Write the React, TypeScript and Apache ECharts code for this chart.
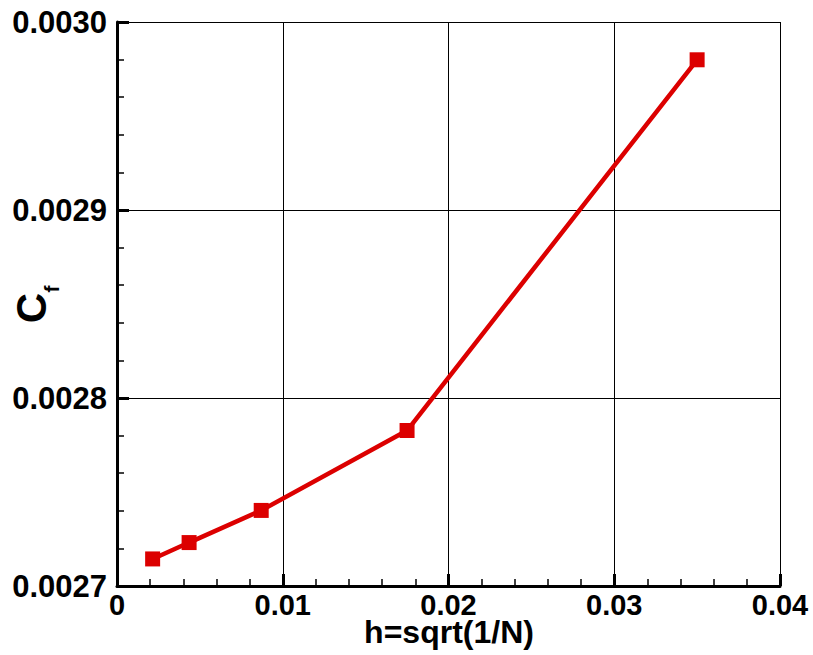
import React, { useEffect, useRef } from "react";
import * as echarts from "echarts";

const hValues = [0.00215, 0.00435, 0.0087, 0.0175, 0.035];
const cfValues = [0.0027144, 0.0027231, 0.0027402, 0.0027827, 0.0029799];
const xAxisTitle = "h=sqrt(1/N)";
const yAxisTitleMain = "C";
const yAxisTitleSub = "f";

export default function App() {
  const ref = useRef<HTMLDivElement>(null);
  useEffect(() => {
    if (!ref.current) return;
    const chart = echarts.init(ref.current, null, { renderer: "svg" });
    const font = "'Liberation Sans', Arial, Helvetica, sans-serif";
    chart.setOption({
      animation: false,
      backgroundColor: "#ffffff",
      grid: { left: 117, top: 22, right: 33, bottom: 69, containLabel: false, outerBoundsMode: "none" },
      xAxis: {
        type: "value",
        min: 0,
        max: 0.04,
        interval: 0.01,
        axisLine: { onZero: false, lineStyle: { color: "#000", width: 3 } },
        axisTick: { inside: true, length: 12, lineStyle: { color: "#000", width: 3 } },
        minorTick: { show: true, splitNumber: 5, length: 7, lineStyle: { color: "#000", width: 1.5 } },
        splitLine: { show: true, lineStyle: { color: "#000", width: 1 } },
        axisLabel: {
          color: "#000",
          fontSize: 29,
          fontWeight: "bold",
          fontFamily: font,
          margin: 4,
        },
      },
      yAxis: {
        type: "value",
        min: 0.0027,
        max: 0.003,
        interval: 0.0001,
        axisLine: { onZero: false, lineStyle: { color: "#000", width: 3 } },
        axisTick: { inside: true, length: 12, lineStyle: { color: "#000", width: 3 } },
        minorTick: { show: true, splitNumber: 5, length: 7, lineStyle: { color: "#000", width: 1.5 } },
        splitLine: { show: true, lineStyle: { color: "#000", width: 1 } },
        axisLabel: {
          color: "#000",
          fontSize: 31,
          fontWeight: "bold",
          fontFamily: font,
          margin: 10,
          formatter: (v: number) => v.toFixed(4),
        },
      },
      graphic: [
        {
          type: "text",
          x: 449,
          y: 632,
          style: {
            text: xAxisTitle,
            fill: "#000",
            fontSize: 32,
            fontWeight: "bold",
            fontFamily: font,
            align: "center",
            verticalAlign: "middle",
          },
        },
        {
          type: "text",
          x: 31,
          y: 308,
          rotation: Math.PI / 2,
          style: {
            text: yAxisTitleMain,
            fill: "#000",
            fontSize: 42,
            fontWeight: "bold",
            fontFamily: font,
            align: "center",
            verticalAlign: "middle",
          },
        },
        {
          type: "text",
          x: 51,
          y: 289,
          rotation: Math.PI / 2,
          style: {
            text: yAxisTitleSub,
            fill: "#000",
            fontSize: 21,
            fontWeight: "bold",
            fontFamily: font,
            align: "center",
            verticalAlign: "middle",
          },
        },
      ],
      series: [
        {
          type: "line",
          data: hValues.map((h, i) => [h, cfValues[i]]),
          symbol: "rect",
          symbolSize: 15,
          lineStyle: { color: "#dc0000", width: 4.5 },
          itemStyle: { color: "#dc0000" },
        },
      ],
    });
    return () => chart.dispose();
  }, []);
  return (
    <div
      ref={ref}
      style={{ position: "fixed", left: 0, top: 0, width: 813, height: 655, background: "#fff" }}
    />
  );
}
